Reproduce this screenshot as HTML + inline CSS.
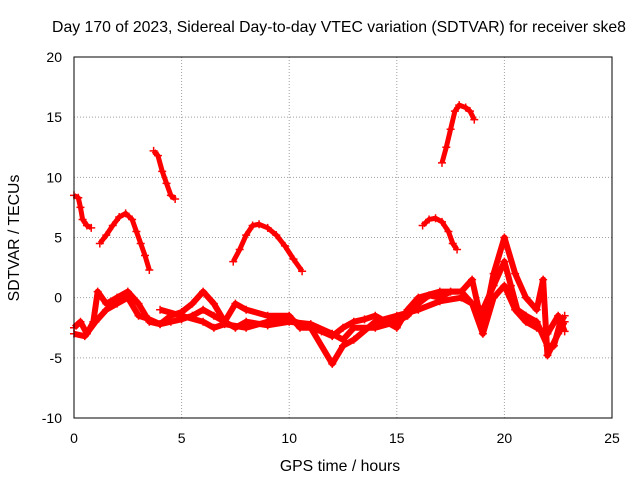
<!DOCTYPE html>
<html><head><meta charset="utf-8"><style>
body{margin:0;background:#fff}
svg{font-family:"Liberation Sans",Arial,sans-serif;font-size:14px}
</style></head><body>
<svg id="c" width="640" height="480">
<text x="339" y="32" text-anchor="middle" style="font-size:15.8px">Day 170 of 2023, Sidereal Day-to-day VTEC variation (SDTVAR) for receiver ske8</text>
<text x="340" y="471" text-anchor="middle" style="font-size:15.8px">GPS time / hours</text>
<text transform="translate(19,238) rotate(-90)" text-anchor="middle" style="font-size:15.8px">SDTVAR / TECUs</text>
<g id="grid"></g><g id="data"></g>
<rect x="74" y="57" width="538" height="361" fill="none" stroke="#000"/>
<g id="ticks"></g>
</svg>
<script>
const xTicks=[0,5,10,15,20,25];
const yTicks=[-10,-5,0,5,10,15,20];
const arc1=[[0,8.5],[0.2,8.3],[0.3,7.5],[0.4,6.5],[0.6,6],[0.8,5.8]];
const arc2=[[1.2,4.5],[1.5,5.2],[1.8,6],[2.1,6.7],[2.4,7],[2.7,6.5],[2.9,5.5],[3.1,4.5],[3.3,3.5],[3.5,2.3]];
const arc3=[[3.7,12.2],[3.9,11.8],[4.1,10.5],[4.3,9.5],[4.5,8.5],[4.7,8.2]];
const arc4=[[7.4,3],[7.7,4],[8,5.2],[8.3,6],[8.6,6.1],[9,5.8],[9.4,5.2],[9.8,4.3],[10.2,3.2],[10.6,2.2]];
const arc5=[[16.2,6],[16.5,6.5],[16.8,6.6],[17.1,6.3],[17.4,5.5],[17.6,4.5],[17.8,4]];
const arc6=[[17.1,11.2],[17.3,12.5],[17.5,14],[17.7,15.5],[17.9,16],[18.2,15.8],[18.4,15.5],[18.6,14.8]];
const lineA=[[0,-2.5],[0.3,-2],[0.6,-3],[0.9,-2],[1.1,0.5],[1.5,-0.5],[2,0],[2.5,0.5],[3,-0.5],[3.5,-2],[4,-2.2],[4.5,-1.5],[5,-1.2],[5.5,-0.5],[6,0.5],[6.5,-0.5],[7,-2],[7.5,-2.5],[8,-2],[9,-2.3],[10,-2],[11,-2.2],[12,-3],[12.5,-3.5],[13,-2.5],[14,-2.5],[15,-2],[15.5,-1.5],[16,-0.5],[16.5,0.2],[17,0],[17.5,0.5],[18,0.5],[18.5,-0.5],[19,-1],[19.5,1],[20,3],[20.3,1],[20.6,-1],[21,-1.5],[21.5,-2],[22,-4],[22.3,-4],[22.6,-2],[22.8,-1.5]];
const lineB=[[0,-3],[0.5,-3.2],[1,-2],[1.5,-1],[2,-0.5],[2.5,0],[3,-1.5],[3.5,-1.8],[4,-2.2],[4.5,-2],[5,-1.8],[5.5,-1.5],[6,-1],[6.5,-1.5],[7,-2],[7.5,-0.5],[8,-1],[9,-1.5],[10,-1.5],[10.5,-2.5],[11,-2.5],[11.5,-2.8],[12,-3.2],[12.5,-2.5],[13,-2],[13.5,-1.8],[14,-1.5],[14.5,-2],[15,-2.5],[15.5,-1],[16,0],[17,0.5],[18,0.5],[18.5,1.5],[19,-2.5],[19.5,2],[20,5],[20.5,2],[21,0],[21.5,-1],[21.8,1.5],[22,-4.8],[22.5,-3],[22.8,-2]];
const lineC=[[4,-1],[5,-1.5],[6,-2],[6.5,-2.5],[7,-2.2],[8,-2.5],[9,-2],[10,-1.8],[11,-2.5],[12,-5.5],[12.5,-4],[13,-3.5],[14,-2],[15,-1.5],[16,-1],[17,-0.3],[18,0],[18.5,-0.5],[19,-3],[19.5,0],[20,1],[20.5,-1],[21,-2],[21.5,-2.5],[22,-3],[22.5,-1.5],[22.8,-2.8]];
const series=[arc1,arc2,arc3,arc4,arc5,arc6,lineA,lineB,lineC];
const NS="http://www.w3.org/2000/svg";
function X(v){return 74+v*538/25;}
function Y(v){return 418-(v+10)*361/30;}
const grid=document.getElementById('grid'),ticks=document.getElementById('ticks'),data=document.getElementById('data');
function mk(tag,attrs,parent){const e=document.createElementNS(NS,tag);for(const k in attrs)e.setAttribute(k,attrs[k]);parent.appendChild(e);return e;}
xTicks.forEach(t=>{
 if(t>0&&t<25){const g=mk('line',{x1:X(t),x2:X(t),y1:57,y2:418,stroke:'#a0a0a0','stroke-dasharray':'1,2'},grid);
 
 }
 const l=mk('text',{x:X(t),y:443,'text-anchor':'middle'},ticks);l.textContent=t;
 
 
});
yTicks.forEach(t=>{
 if(t>-10&&t<20){const g=mk('line',{x1:74,x2:612,y1:Y(t),y2:Y(t),stroke:'#a0a0a0','stroke-dasharray':'1,2'},grid);
 
 }
 const l=mk('text',{x:62,y:Y(t)+5,'text-anchor':'end'},ticks);l.textContent=t;
 
 
});
series.forEach((s,i)=>{
 const p=mk('polyline',{points:s.map(d=>X(d[0])+','+Y(d[1])).join(' '),fill:'none',stroke:'#f00','stroke-width':i>=6?6:5,'stroke-linejoin':'round'},data);
 
 
 s.forEach(d=>{
  const m=mk('path',{d:`M${X(d[0])-4},${Y(d[1])}h8M${X(d[0])},${Y(d[1])-4}v8`,stroke:'#f00','stroke-width':1.5},data);
  
  
 });
});
</script>
</body></html>
